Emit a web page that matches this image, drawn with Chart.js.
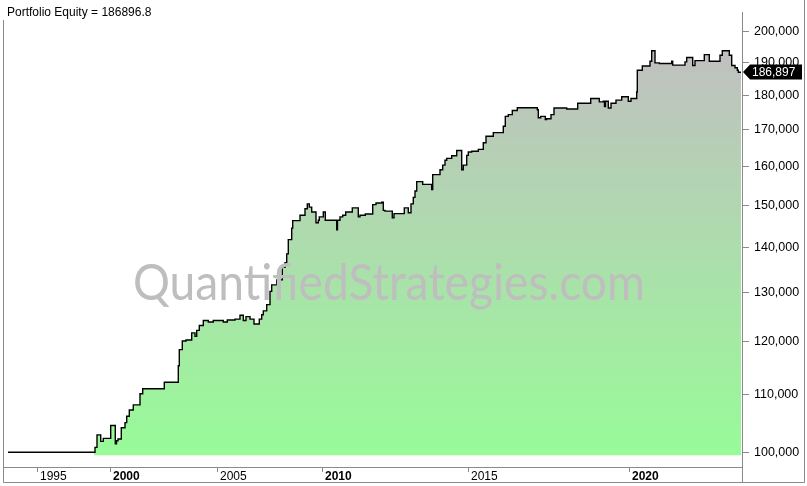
<!DOCTYPE html>
<html>
<head>
<meta charset="utf-8">
<script src="https://cdn.jsdelivr.net/npm/chart.js@4.4.1/dist/chart.umd.min.js"></script>
<style>
  html, body { margin: 0; padding: 0; background: #fff; }
  #chart { display: block; }
</style>
</head>
<body>
<canvas id="chart" width="807" height="486"></canvas>
<script>
// chart text
const chartTitle = "Portfolio Equity = 186896.8";
const watermark = "QuantifiedStrategies.com";

// x axis is the bar number, years are labelled at the bar where they start
const yearBars = [34, 107, 214, 319, 465, 626];
const yearLabels = ["1995", "2000", "2005", "2010", "2015", "2020"];
const boldYears = ["2000", "2010", "2020"];

// y axis (log scale)
const equityTicks = [100000, 110000, 120000, 130000, 140000, 150000, 160000, 170000, 180000, 190000, 200000];

// flat part before the first trade
const idleBars = [5, 91];
const idleValues = [100000, 100000];

// equity steps: value holds from its bar until the next one
const equityBars = [
  91, 92, 94, 97.7, 100.3, 107.7, 112.3, 113.5, 115, 118.3,
  122, 123.7, 126.3, 130.3, 137, 139.7, 161.3, 175.3, 176.3, 179.3,
  183, 188.7, 192, 193.7, 196.3, 200.3, 205.3, 210.3, 220.3, 224.3,
  232, 237, 240.3, 243, 247, 251, 256.3, 258.7, 260.3, 263.7,
  267, 268.7, 273.7, 279.3, 282, 283.7, 285.3, 288.7, 289.7, 297,
  302, 304.3, 306.3, 308.7, 313, 315.3, 316.3, 320.3, 322.3, 333.7,
  334.5, 337, 339.7, 342.7, 349.3, 355.3, 357, 362.3, 369.7, 373,
  378.7, 380.3, 382, 389.3, 391, 401.3, 405.3, 408, 410.3, 412,
  413.7, 419.7, 428.7, 429.7, 437, 439.7, 442, 443.7, 448.7, 453.7,
  458.7, 460.3, 463.7, 465.3, 468.7, 475.3, 480.3, 483, 490.3, 500.3,
  502.3, 505.3, 509.3, 514.3, 534.3, 535.3, 537.7, 542.3, 543.7, 548,
  551, 563.7, 574.7, 587.7, 596.3, 600.3, 601.5, 602.5, 605.3, 608,
  613, 618.7, 625.3, 628, 633.7, 634.3, 639.3, 647, 648.7, 652,
  656.3, 668.7, 669.7, 682, 683.7, 689.7, 692, 701.3, 706.3, 717,
  719.3, 726.3, 728.7, 732, 734.3, 735.3, 738
];
const equityValues = [
  100000, 100800, 102900, 101800, 102300, 104500, 101400, 101900, 102200, 104100,
  105000, 106100, 107200, 108100, 110100, 111000, 112200, 115300, 118400, 120100,
  120300, 121700, 121000, 122200, 123200, 124200, 123900, 124200, 123900, 124300,
  124500, 125300, 124200, 125000, 124500, 123500, 124500, 125400, 126200, 127500,
  130300, 131700, 132800, 135600, 136600, 138600, 141900, 144600, 146400, 147700,
  149300, 150500, 149700, 148500, 145900, 146500, 147300, 148500, 146500, 144200,
  146500, 147300, 147700, 148500, 149500, 147300, 147700, 148000, 150300, 150700,
  150900, 148900, 148700, 147100, 148100, 149500, 148300, 150500, 152100, 153700,
  156100, 155400, 154100, 157900, 159200, 160400, 161700, 162200, 162900, 164300,
  159200, 160400, 163000, 163900, 164100, 164600, 166400, 168200, 169200, 171000,
  173800, 174300, 175500, 176300, 175700, 173400, 173800, 172900, 173100, 174300,
  176200, 175900, 177600, 179000, 178000, 178200, 176600, 178200, 176200, 177600,
  178500, 179500, 178200, 179000, 180900, 187500, 188800, 190300, 193600, 189800,
  189600, 190300, 189100, 190100, 191500, 189000, 190500, 192400, 190300, 192200,
  193600, 192200, 189000, 188300, 187500, 186897, 186897
];

const fillBase = 99500;
const frameColor = "#8a8a8a";
const fontFamily = '"Liberation Sans", Arial, sans-serif';

function toPoints(bars, values) {
  return bars.map((b, i) => ({ x: b, y: values[i] }));
}

function equityGradient(context) {
  const chart = context.chart;
  if (!chart.chartArea) return "#98fb98";
  const y = chart.scales.y;
  const bottom = y.getPixelForValue(fillBase);
  const top = y.getPixelForValue(Math.max(...equityValues));
  const g = chart.ctx.createLinearGradient(0, bottom, 0, top);
  g.addColorStop(0, "#98fb98");
  g.addColorStop(1, "#c0c0c0");
  return g;
}

// watermark goes over the curve
const watermarkPlugin = {
  id: "watermark",
  afterDatasetsDraw(chart) {
    const ctx = chart.ctx;
    ctx.save();
    ctx.font = '51px Lato, "Open Sans", sans-serif';
    ctx.fillStyle = "#bebebe";
    ctx.textBaseline = "alphabetic";
    const w = ctx.measureText(watermark).width;
    ctx.translate(133, 300);
    ctx.scale(512 / w, 1);
    ctx.fillText(watermark, 0, 0);
    ctx.restore();
  }
};

// frame, title and the last value tag
const decorPlugin = {
  id: "decor",
  afterDraw(chart) {
    const { ctx, chartArea } = chart;
    ctx.save();
    ctx.strokeStyle = frameColor;
    ctx.lineWidth = 1;
    ctx.beginPath();
    ctx.moveTo(3.5, 0);
    ctx.lineTo(3.5, 482.5);
    ctx.lineTo(804.5, 482.5);
    ctx.lineTo(804.5, 0);
    ctx.moveTo(Math.round(chartArea.right) + 0.5, chartArea.bottom);
    ctx.lineTo(Math.round(chartArea.right) + 0.5, 482.5);
    ctx.stroke();

    // title on a white box
    ctx.font = "12px " + fontFamily;
    const tw = ctx.measureText(chartTitle).width;
    ctx.fillStyle = "#fff";
    ctx.fillRect(0, 0, tw + 10, 20);
    ctx.fillStyle = "#000";
    ctx.textBaseline = "alphabetic";
    ctx.fillText(chartTitle, 7, 16);

    // last value tag
    const last = equityValues[equityValues.length - 1];
    const y = Math.round(chart.scales.y.getPixelForValue(last));
    const x0 = Math.round(chartArea.right) + 1;
    ctx.fillStyle = "#000";
    ctx.beginPath();
    ctx.moveTo(x0, y);
    ctx.lineTo(x0 + 7, y - 7.5);
    ctx.lineTo(802, y - 7.5);
    ctx.lineTo(802, y + 7.5);
    ctx.lineTo(x0 + 7, y + 7.5);
    ctx.closePath();
    ctx.fill();
    ctx.fillStyle = "#fff";
    ctx.textBaseline = "middle";
    ctx.fillText(Math.round(last).toLocaleString("en-US"), x0 + 9, y + 0.5);
    ctx.restore();
  }
};

new Chart(document.getElementById("chart").getContext("2d"), {
  type: "line",
  data: {
    datasets: [
      {
        data: toPoints(idleBars, idleValues),
        borderColor: "#000",
        borderWidth: 1.4,
        pointRadius: 0,
        stepped: true,
        fill: false
      },
      {
        data: toPoints(equityBars, equityValues),
        borderColor: "#000",
        borderWidth: 1.4,
        pointRadius: 0,
        stepped: true,
        fill: { target: { value: fillBase } },
        backgroundColor: equityGradient
      }
    ]
  },
  options: {
    responsive: false,
    animation: false,
    devicePixelRatio: 1,
    layout: { padding: { left: 3, right: 0, top: 0, bottom: 4 } },
    plugins: {
      legend: { display: false },
      tooltip: { enabled: false }
    },
    scales: {
      x: {
        type: "linear",
        min: 0,
        max: 739,
        afterBuildTicks: (axis) => {
          axis.ticks = yearBars.map((v) => ({ value: v }));
        },
        afterFit: (axis) => {
          axis.height = 15;
        },
        border: { color: frameColor },
        grid: { drawOnChartArea: false, tickLength: 5, color: frameColor },
        ticks: {
          align: "start",
          labelOffset: 3,
          padding: -3,
          autoSkip: false,
          maxRotation: 0,
          color: "#000",
          font: (c) => ({
            family: fontFamily,
            size: 12,
            weight: boldYears.includes(yearLabels[c.index]) ? "bold" : "normal"
          }),
          callback: (v, i) => yearLabels[i]
        }
      },
      y: {
        type: "logarithmic",
        position: "right",
        min: 97600,
        max: 206200,
        afterBuildTicks: (axis) => {
          axis.ticks = equityTicks.map((v) => ({ value: v }));
        },
        afterFit: (axis) => {
          axis.width = 65;
        },
        border: { color: frameColor },
        grid: { drawOnChartArea: false, tickLength: 7, color: frameColor },
        ticks: {
          padding: 5,
          color: "#000",
          font: { family: fontFamily, size: 12.5 },
          callback: (v) => Number(v).toLocaleString("en-US")
        }
      }
    }
  },
  plugins: [watermarkPlugin, decorPlugin]
});
</script>
</body>
</html>
